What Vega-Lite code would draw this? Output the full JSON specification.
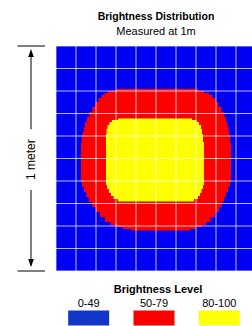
{
  "$schema": "https://vega.github.io/schema/vega-lite/v6.json",
  "background": "white",
  "padding": {"left": 17, "top": 12, "right": 0, "bottom": 0},
  "config": {
    "font": "Liberation Sans",
    "view": {"stroke": null},
    "concat": {"spacing": 12}
  },
  "datasets": {
    "bands": [
      {"level": "0-49", "x": 0, "x2": 100, "y": 0, "y2": 100},
      {"level": "50-79", "y": 19.1, "y2": 20.0, "x": 30, "x2": 71},
      {"level": "50-79", "y": 20.0, "y2": 20.9, "x": 26, "x2": 74},
      {"level": "50-79", "y": 20.9, "y2": 21.8, "x": 24.25, "x2": 76.5},
      {"level": "50-79", "y": 21.8, "y2": 23.1, "x": 22.75, "x2": 78.25},
      {"level": "50-79", "y": 23.1, "y2": 24.9, "x": 21.25, "x2": 79.75},
      {"level": "50-79", "y": 24.9, "y2": 27.1, "x": 19.75, "x2": 81.25},
      {"level": "50-79", "y": 27.1, "y2": 29.3, "x": 18.25, "x2": 82.75},
      {"level": "50-79", "y": 29.3, "y2": 31.6, "x": 16.75, "x2": 84},
      {"level": "50-79", "y": 31.6, "y2": 33.8, "x": 15.5, "x2": 85},
      {"level": "50-79", "y": 33.8, "y2": 36.0, "x": 14.5, "x2": 85.75},
      {"level": "50-79", "y": 36.0, "y2": 38.2, "x": 13.9, "x2": 86.25},
      {"level": "50-79", "y": 38.2, "y2": 40.4, "x": 13.25, "x2": 86.75},
      {"level": "50-79", "y": 40.4, "y2": 42.7, "x": 12.9, "x2": 87.1},
      {"level": "50-79", "y": 42.7, "y2": 44.9, "x": 12.6, "x2": 87.4},
      {"level": "50-79", "y": 44.9, "y2": 60.4, "x": 12.5, "x2": 87.5},
      {"level": "50-79", "y": 60.4, "y2": 62.7, "x": 13, "x2": 87},
      {"level": "50-79", "y": 62.7, "y2": 64.9, "x": 14, "x2": 86},
      {"level": "50-79", "y": 64.9, "y2": 67.1, "x": 15.1, "x2": 85},
      {"level": "50-79", "y": 67.1, "y2": 69.3, "x": 16.4, "x2": 84},
      {"level": "50-79", "y": 69.3, "y2": 71.6, "x": 18, "x2": 82.85},
      {"level": "50-79", "y": 71.6, "y2": 73.8, "x": 20, "x2": 81.5},
      {"level": "50-79", "y": 73.8, "y2": 76.0, "x": 22, "x2": 79.5},
      {"level": "50-79", "y": 76.0, "y2": 78.2, "x": 24.5, "x2": 77.25},
      {"level": "50-79", "y": 78.2, "y2": 79.6, "x": 27.25, "x2": 75},
      {"level": "50-79", "y": 79.6, "y2": 80.4, "x": 30, "x2": 72.75},
      {"level": "50-79", "y": 80.4, "y2": 81.3, "x": 33.5, "x2": 70},
      {"level": "50-79", "y": 81.3, "y2": 82.0, "x": 37.5, "x2": 67},
      {"level": "80-100", "y": 32.2, "y2": 32.9, "x": 31, "x2": 68},
      {"level": "80-100", "y": 32.9, "y2": 33.8, "x": 28, "x2": 70.25},
      {"level": "80-100", "y": 33.8, "y2": 35.1, "x": 26.75, "x2": 71.5},
      {"level": "80-100", "y": 35.1, "y2": 36.9, "x": 25.75, "x2": 72.5},
      {"level": "80-100", "y": 36.9, "y2": 39.1, "x": 25.25, "x2": 73},
      {"level": "80-100", "y": 39.1, "y2": 42.7, "x": 25, "x2": 73.5},
      {"level": "80-100", "y": 42.7, "y2": 61.8, "x": 25, "x2": 74},
      {"level": "80-100", "y": 61.8, "y2": 63.6, "x": 25.5, "x2": 73.5},
      {"level": "80-100", "y": 63.6, "y2": 65.3, "x": 26.5, "x2": 72.75},
      {"level": "80-100", "y": 65.3, "y2": 66.7, "x": 27.5, "x2": 72},
      {"level": "80-100", "y": 66.7, "y2": 68.0, "x": 28.75, "x2": 71},
      {"level": "80-100", "y": 68.0, "y2": 69.1, "x": 31, "x2": 69}
    ],
    "grid": [
      {"pos": 0}, {"pos": 10}, {"pos": 20}, {"pos": 30}, {"pos": 40}, {"pos": 50},
      {"pos": 60}, {"pos": 70}, {"pos": 80}, {"pos": 90}, {"pos": 100}
    ],
    "marker": [
      {"part": "tick", "x": -19.2, "x2": -5.5, "y": 0},
      {"part": "tick", "x": -19.2, "x2": -5.5, "y": 100},
      {"part": "shaft", "x": -12.5, "y": 2.5, "y2": 37},
      {"part": "shaft", "x": -12.5, "y": 64, "y2": 97.5},
      {"part": "headUp", "x": -12.5, "y": 3.1},
      {"part": "headDown", "x": -12.5, "y": 96.4},
      {"part": "label", "x": -12.5, "y": 50.5, "text": "1 meter"}
    ],
    "levels": [
      {"level": "0-49"},
      {"level": "50-79"},
      {"level": "80-100"}
    ]
  },
  "vconcat": [
    {
      "width": 200,
      "height": 225,
      "title": {
        "text": "Brightness Distribution",
        "subtitle": "Measured at 1m",
        "anchor": "middle",
        "font": "Liberation Sans",
        "fontSize": 10.5,
        "fontWeight": "bold",
        "color": "#000000",
        "subtitleFont": "Liberation Sans",
        "subtitleFontSize": 11,
        "subtitleColor": "#000000",
        "subtitlePadding": 3,
        "offset": 9
      },
      "layer": [
        {
          "data": {"name": "bands"},
          "mark": {"type": "rect"},
          "encoding": {
            "x": {"field": "x", "type": "quantitative", "axis": null, "scale": {"domain": [0, 100], "nice": false, "zero": false}},
            "x2": {"field": "x2"},
            "y": {"field": "y", "type": "quantitative", "axis": null, "scale": {"domain": [0, 100], "nice": false, "zero": false, "reverse": true}},
            "y2": {"field": "y2"},
            "color": {"field": "level", "type": "nominal", "scale": {"domain": ["0-49", "50-79", "80-100"], "range": ["#0000f4", "#ff0000", "#ffff00"]}, "legend": null}
          }
        },
        {
          "data": {"name": "grid"},
          "mark": {"type": "rule", "color": "#ffffff", "opacity": 0.72, "strokeWidth": 1},
          "encoding": {
            "x": {"field": "pos", "type": "quantitative", "axis": null},
            "y": {"datum": 0, "type": "quantitative", "axis": null},
            "y2": {"datum": 100}
          }
        },
        {
          "data": {"name": "grid"},
          "mark": {"type": "rule", "color": "#ffffff", "opacity": 0.72, "strokeWidth": 1},
          "encoding": {
            "y": {"field": "pos", "type": "quantitative", "axis": null},
            "x": {"datum": 0, "type": "quantitative", "axis": null},
            "x2": {"datum": 100}
          }
        },
        {
          "data": {"name": "marker"},
          "transform": [{"filter": "datum.part === 'tick'"}],
          "mark": {"type": "rule", "color": "#000000", "strokeWidth": 1},
          "encoding": {
            "x": {"field": "x", "type": "quantitative", "axis": null},
            "x2": {"field": "x2"},
            "y": {"field": "y", "type": "quantitative", "axis": null}
          }
        },
        {
          "data": {"name": "marker"},
          "transform": [{"filter": "datum.part === 'shaft'"}],
          "mark": {"type": "rule", "color": "#000000", "strokeWidth": 1},
          "encoding": {
            "x": {"field": "x", "type": "quantitative", "axis": null},
            "y": {"field": "y", "type": "quantitative", "axis": null},
            "y2": {"field": "y2"}
          }
        },
        {
          "data": {"name": "marker"},
          "transform": [{"filter": "datum.part === 'headUp'"}],
          "mark": {"type": "point", "filled": true, "color": "#000000", "opacity": 1, "size": 64, "shape": "M0,-1L0.7,1L-0.7,1Z"},
          "encoding": {
            "x": {"field": "x", "type": "quantitative", "axis": null},
            "y": {"field": "y", "type": "quantitative", "axis": null}
          }
        },
        {
          "data": {"name": "marker"},
          "transform": [{"filter": "datum.part === 'headDown'"}],
          "mark": {"type": "point", "filled": true, "color": "#000000", "opacity": 1, "size": 64, "shape": "M0,1L0.7,-1L-0.7,-1Z"},
          "encoding": {
            "x": {"field": "x", "type": "quantitative", "axis": null},
            "y": {"field": "y", "type": "quantitative", "axis": null}
          }
        },
        {
          "data": {"name": "marker"},
          "transform": [{"filter": "datum.part === 'label'"}],
          "mark": {"type": "text", "angle": 270, "align": "center", "baseline": "middle", "fontSize": 12, "font": "Liberation Sans", "color": "#000000"},
          "encoding": {
            "x": {"field": "x", "type": "quantitative", "axis": null},
            "y": {"field": "y", "type": "quantitative", "axis": null},
            "text": {"field": "text"}
          }
        }
      ]
    },
    {
      "width": 196,
      "height": 28,
      "title": {
        "text": "Brightness Level",
        "anchor": "middle",
        "font": "Liberation Sans",
        "fontSize": 11,
        "fontWeight": "bold",
        "color": "#000000",
        "dx": 4,
        "offset": 2
      },
      "data": {"name": "levels"},
      "layer": [
        {
          "mark": {"type": "rect", "width": 41, "height": 15},
          "encoding": {
            "x": {"field": "level", "type": "nominal", "axis": null, "sort": null, "scale": {"paddingInner": 0, "paddingOuter": 0}},
            "y": {"datum": "swatch", "type": "nominal", "axis": null, "scale": {"domain": ["label", "swatch"], "paddingInner": 0, "paddingOuter": 0}},
            "fill": {"field": "level", "type": "nominal", "scale": {"domain": ["0-49", "50-79", "80-100"], "range": ["#1236c8", "#fa0000", "#ffff0a"]}, "legend": null}
          }
        },
        {
          "mark": {"type": "text", "fontSize": 11, "font": "Liberation Sans", "color": "#000000", "baseline": "middle"},
          "encoding": {
            "x": {"field": "level", "type": "nominal", "axis": null, "sort": null},
            "y": {"datum": "label", "type": "nominal", "axis": null},
            "text": {"field": "level"}
          }
        }
      ]
    }
  ]
}
